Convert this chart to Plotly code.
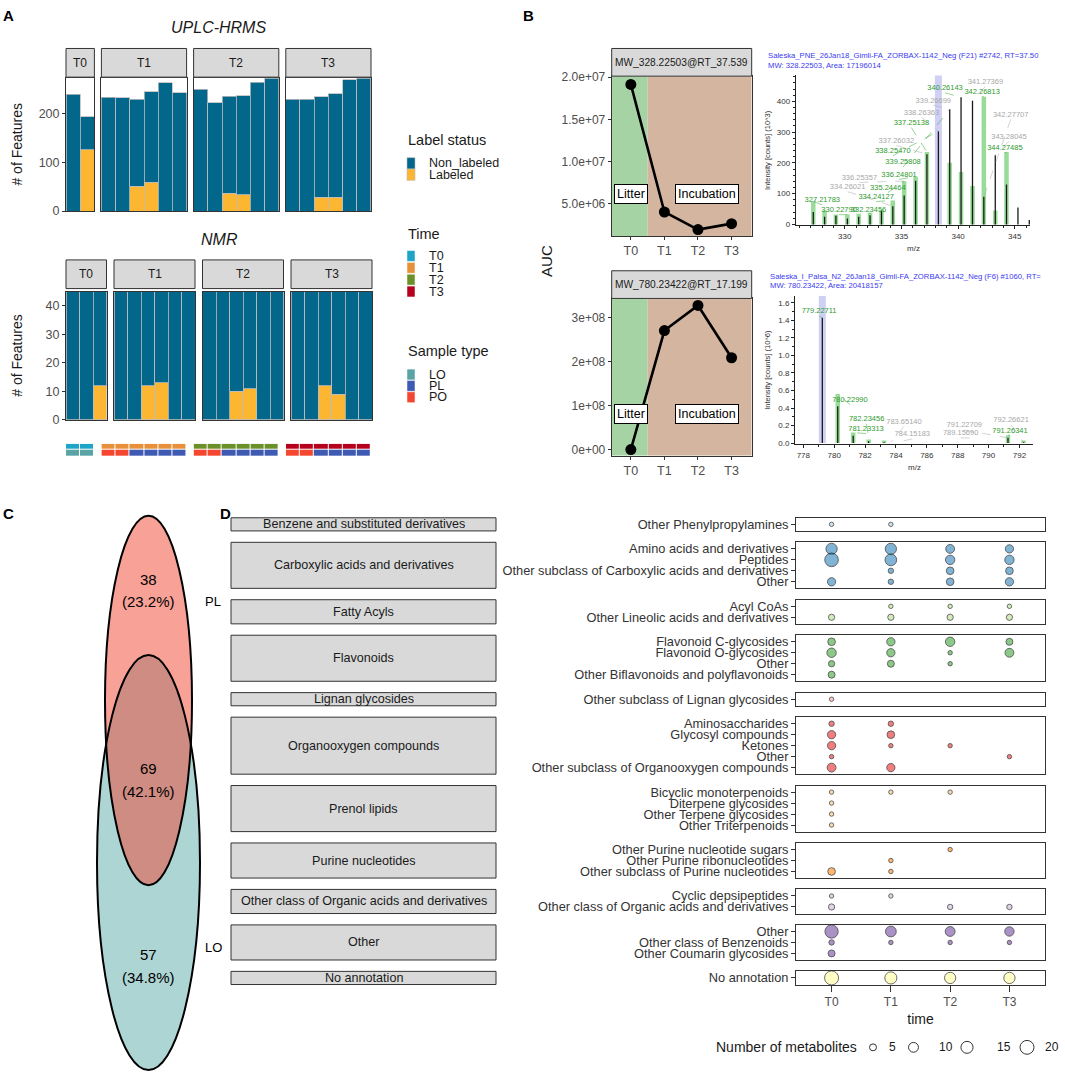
import plotly.graph_objects as go

W, H = 1065, 1082
FONT = "Liberation Sans, Arial, sans-serif"


def fx(px):
    return px / W


def fy(py):
    return 1 - py / H


# ======================= DATA =======================
times = ["T0", "T1", "T2", "T3"]
label_status = ["Non_labeled", "Labeled"]
sample_types = ["LO", "PL", "PO"]

# Panel A - UPLC-HRMS (total features per sample, labeled part)
uplc_total_T0 = [240, 194]
uplc_total_T1 = [234, 233, 230, 245, 263, 243]
uplc_total_T2 = [250, 222, 236, 237, 265, 273]
uplc_total_T3 = [230, 230, 235, 241, 270, 273]
uplc_labeled_T0 = [0, 126]
uplc_labeled_T1 = [0, 0, 51, 59, 0, 0]
uplc_labeled_T2 = [0, 0, 36, 33, 0, 0]
uplc_labeled_T3 = [0, 0, 28, 28, 0, 0]

# Panel A - NMR
nmr_total_T0 = [45, 45, 45]
nmr_total_T1 = [45, 45, 45, 45, 45, 45]
nmr_total_T2 = [45, 45, 45, 45, 45, 45]
nmr_total_T3 = [45, 45, 45, 45, 45, 45]
nmr_labeled_T0 = [0, 0, 12]
nmr_labeled_T1 = [0, 0, 12, 13, 0, 0]
nmr_labeled_T2 = [0, 0, 10, 11, 0, 0]
nmr_labeled_T3 = [0, 0, 12, 9, 0, 0]

# Sample annotation strip (UPLC samples)
sample_type_T0 = ["LO", "LO"]
sample_type_T1 = ["PO", "PO", "PL", "PL", "PL", "PL"]
sample_type_T2 = ["PO", "PO", "PL", "PL", "PL", "PL"]
sample_type_T3 = ["PO", "PO", "PL", "PL", "PL", "PL"]

# Panel B - AUC time courses
feature_328 = "MW_328.22503@RT_37.539"
auc_328 = [1.914e7, 4.02e6, 1.94e6, 2.64e6]
feature_780 = "MW_780.23422@RT_17.199"
auc_780 = [0.0, 2.71e8, 3.28e8, 2.09e8]
phase_labels = ["Litter", "Incubation"]

# Panel B - spectrum 1
spec1_title = ["Saleska_PNE_26Jan18_Gimli-FA_ZORBAX-1142_Neg (F21) #2742, RT=37.50",
               "MW: 328.22503, Area: 17196014"]
spec1_mz = [327.22, 328.22, 329.22, 330.23, 331.23, 332.23, 333.24, 334.24, 335.24, 336.25,
            337.25, 338.26, 339.26, 340.26, 341.27, 342.27, 343.28, 344.27, 345.28, 346.28]
spec1_obs = [40, 25, 28, 19, 25, 30, 44, 59, 94, 142, 228, 303, 374, 413, 402, 90, 225, 130, 55, 14]
spec1_sim = [75, 45, 32, 32, 35, 38, 48, 78, 140, 155, 235, 0, 200, 170, 125, 415, 45, 235, 0, 0]
spec1_sel = 338.26
spec1_green_text = ["327.21783", "330.22790", "332.23456", "334.24127", "335.24464", "336.24801",
                    "339.25808", "338.25470", "337.25138", "340.26143", "342.26813", "344.27485"]
spec1_green_x = [328.02, 329.5, 332.1, 332.77, 333.8, 334.79, 335.14, 334.25, 335.88, 338.85, 342.12, 344.13]
spec1_green_y = [78, 46, 48, 89, 118, 161, 201, 238, 329, 442, 431, 247]
spec1_grey_text = ["336.25357", "334.26021", "337.26032", "338.26363", "339.26699", "341.27369",
                   "342.27707", "343.28045"]
spec1_grey_x = [331.29, 330.25, 334.55, 336.77, 337.81, 342.41, 344.64, 344.49]
spec1_grey_y = [151, 121, 271, 362, 402, 463, 356, 285]

# Panel B - spectrum 2
spec2_title = ["Saleska_I_Palsa_N2_26Jan18_Gimli-FA_ZORBAX-1142_Neg (F6) #1060, RT=",
               "MW: 780.23422, Area: 20418157"]
spec2_mz = [779.23, 780.23, 781.23, 782.23, 783.23, 791.26, 792.27]
spec2_obs = [1.43, 0.42, 0.085, 0.02, 0.01, 0.06, 0.01]
spec2_sim = [0.0, 0.56, 0.12, 0.04, 0.03, 0.09, 0.03]
spec2_sel = 779.23
spec2_green_text = ["779.22711", "780.22990", "782.23456", "781.23313", "791.26341"]
spec2_green_x = [779.02, 781.02, 782.1, 782.06, 791.39]
spec2_green_y = [1.50, 0.49, 0.27, 0.16, 0.14]
spec2_grey_text = ["783.65140", "784.15183", "791.22709", "789.15690", "792.26621"]
spec2_grey_x = [784.52, 785.06, 788.43, 788.19, 791.46]
spec2_grey_y = [0.24, 0.10, 0.20, 0.11, 0.26]

# Panel C - Venn
venn_sets = ["PL", "LO"]
venn_counts = [38, 69, 57]  # PL only, both, LO only

# Panel D - dot plot
d_classes = ["Benzene and substituted derivatives", "Carboxylic acids and derivatives", "Fatty Acyls",
             "Flavonoids", "Lignan glycosides", "Organooxygen compounds", "Prenol lipids",
             "Purine nucleotides", "Other class of Organic acids and derivatives", "Other", "No annotation"]
d_class_colors = ["#A6CEE3", "#1F78B4", "#B2DF8A", "#33A02C", "#FB9A99", "#E31A1C", "#FDBF6F",
                  "#FF7F00", "#CAB2D6", "#6A3D9A", "#FFFF99"]
d_row_class = [0, 1, 1, 1, 1, 2, 2, 3, 3, 3, 3, 4, 5, 5, 5, 5, 5, 6, 6, 6, 6, 7, 7, 7, 8, 8, 9, 9, 9, 10]
d_row_sub = ["Other Phenylpropylamines",
             "Amino acids and derivatives", "Peptides",
             "Other subclass of Carboxylic acids and derivatives", "Other",
             "Acyl CoAs", "Other Lineolic acids and derivatives",
             "Flavonoid C-glycosides", "Flavonoid O-glycosides", "Other",
             "Other Biflavonoids and polyflavonoids",
             "Other subclass of Lignan glycosides",
             "Aminosaccharides", "Glycosyl compounds", "Ketones", "Other",
             "Other subclass of Organooxygen compounds",
             "Bicyclic monoterpenoids", "Diterpene glycosides", "Other Terpene glycosides",
             "Other Triterpenoids",
             "Other Purine nucleotide sugars", "Other Purine ribonucleotides",
             "Other subclass of Purine nucleotides",
             "Cyclic depsipeptides", "Other class of Organic acids and derivatives",
             "Other", "Other class of Benzenoids", "Other Coumarin glycosides",
             "No annotation"]
d_T0 = [2, 13, 19, 0, 7, 0, 4, 6, 9, 4, 5, 2, 3, 7, 7, 2, 8, 2, 2, 2, 2, 0, 0, 6, 2, 4, 18, 3, 5, 20]
d_T1 = [2, 13, 14, 3, 3, 2, 4, 7, 7, 5, 0, 0, 3, 6, 2, 0, 7, 2, 0, 0, 0, 0, 2, 2, 2, 0, 12, 2, 0, 15]
d_T2 = [0, 8, 9, 6, 6, 2, 4, 9, 2, 2, 0, 0, 0, 0, 2, 0, 0, 2, 0, 0, 0, 2, 0, 0, 0, 3, 10, 2, 0, 13]
d_T3 = [0, 7, 9, 6, 7, 2, 4, 5, 8, 0, 0, 0, 0, 0, 0, 2, 0, 0, 0, 0, 0, 0, 0, 0, 0, 3, 9, 2, 0, 13]
size_legend_vals = [5, 10, 15, 20]

# ======================= STYLE =======================
C_NON = "#03668B"
C_LAB = "#FDB632"
TIME_COLORS = ["#1DA4C6", "#E8913A", "#6B9027", "#B5001E"]
SAMPLE_COLORS = ["#5AA4A6", "#3F5AB2", "#F5472F"]
GREY_TXT = "#4D4D4D"
BORDER = "#333333"

traces = []
shapes = []
annotations = []
layout = dict(width=W, height=H, margin=dict(l=0, r=0, t=0, b=0), paper_bgcolor="white",
              plot_bgcolor="white", showlegend=False, barmode="stack", bargap=0,
              font=dict(family=FONT, color="#1A1A1A"))
ax_count = [0]


def add_axes(xpx, ypx, xa, ya):
    ax_count[0] += 1
    n = ax_count[0]
    s = "" if n == 1 else str(n)
    layout["xaxis" + s] = dict(domain=[fx(xpx[0]), fx(xpx[1])], anchor="y" + s, **xa)
    layout["yaxis" + s] = dict(domain=[fy(ypx[1]), fy(ypx[0])], anchor="x" + s, **ya)
    return "x" + s, "y" + s


def ax_style(**kw):
    d = dict(showgrid=False, zeroline=False, showline=True, mirror=True, linecolor=BORDER,
             linewidth=1, ticks="", showticklabels=False, fixedrange=True)
    d.update(kw)
    return d


def text(x, y, s, size=12, color="#1A1A1A", xanchor="center", angle=0, **kw):
    annotations.append(dict(xref="paper", yref="paper", x=fx(x), y=fy(y), text=s, showarrow=False,
                            font=dict(size=size, color=color, family=FONT), xanchor=xanchor,
                            yanchor="middle", textangle=angle, borderpad=0, **kw))


def rect(x0, y0, x1, y1, fill, line=BORDER, lw=1):
    shapes.append(dict(type="rect", xref="paper", yref="paper", x0=fx(x0), x1=fx(x1), y0=fy(y1),
                       y1=fy(y0), fillcolor=fill, line=dict(color=line, width=lw), layer="above"))


def strip(x0, x1, y0, y1, s, size=12):
    rect(x0, y0, x1, y1, "#D9D9D9")
    text((x0 + x1) / 2, (y0 + y1) / 2, s, size=size)


def rgba(h, a):
    h = h.lstrip("#")
    return "rgba(%d,%d,%d,%.2f)" % (int(h[0:2], 16), int(h[2:4], 16), int(h[4:6], 16), a)


def nz(v):
    return [x if x else None for x in v]


# ======================= PANEL A =======================
def facet_bars(totals, labeled, x_start, unit, gap, ypx, strip_y, ymax, tickvals, title, title_y):
    xpos = x_start
    doms = []
    for i, t in enumerate(times):
        n = len(totals[i])
        x0, x1 = xpos, xpos + n * unit
        doms.append((x0, x1))
        xa = ax_style(range=[0.5, n + 0.5])
        ya = ax_style(range=[0, ymax])
        if i == 0:
            ya.update(ticks="outside", ticklen=3, tickcolor=BORDER, showticklabels=True,
                      tickvals=tickvals, tickfont=dict(size=12.5, color=GREY_TXT))
        xr, yr = add_axes((x0, x1), ypx, xa, ya)
        idx = list(range(1, n + 1))
        lab = labeled[i]
        non = [a - b for a, b in zip(totals[i], lab)]
        traces.append(go.Bar(x=idx, y=nz(lab), xaxis=xr, yaxis=yr, name=label_status[1],
                             marker=dict(color=C_LAB, line=dict(color="#BDBDBD", width=0.8))))
        traces.append(go.Bar(x=idx, y=non, xaxis=xr, yaxis=yr, name=label_status[0],
                             marker=dict(color=C_NON, line=dict(color="#BDBDBD", width=0.8))))
        strip(x0, x1, strip_y[0], strip_y[1], t)
        xpos = x1 + gap
    text((doms[0][0] + doms[-1][1]) / 2, title_y, "<i>%s</i>" % title, size=16)
    text(17, (ypx[0] + ypx[1]) / 2, "# of Features", size=14, angle=-90)
    return doms


uplc_doms = facet_bars([uplc_total_T0, uplc_total_T1, uplc_total_T2, uplc_total_T3],
                       [uplc_labeled_T0, uplc_labeled_T1, uplc_labeled_T2, uplc_labeled_T3],
                       66, 14.2, 7, (73, 207.5), (43, 72), 273, [0, 100, 200], "UPLC-HRMS", 22)
facet_bars([nmr_total_T0, nmr_total_T1, nmr_total_T2, nmr_total_T3],
           [nmr_labeled_T0, nmr_labeled_T1, nmr_labeled_T2, nmr_labeled_T3],
           66, 13.5, 7.5, (289, 419), (257, 286), 45, [0, 10, 20, 30, 40], "NMR", 236)

# sample annotation strip
strip_colors = TIME_COLORS + SAMPLE_COLORS
cs = []
for k, c in enumerate(strip_colors):
    cs.append([k / len(strip_colors), c])
    cs.append([(k + 1) / len(strip_colors), c])
for i, (st, (x0, x1)) in enumerate(zip([sample_type_T0, sample_type_T1, sample_type_T2, sample_type_T3],
                                        uplc_doms)):
    n = len(st)
    xa = ax_style(range=[0.5, n + 0.5], showline=False)
    ya = ax_style(range=[-0.5, 1.5], showline=False)
    xr, yr = add_axes((x0, x1), (443, 456), xa, ya)
    z = [[4 + sample_types.index(s) for s in st], [i] * n]
    traces.append(go.Heatmap(z=z, x=list(range(1, n + 1)), y=[0, 1], xaxis=xr, yaxis=yr,
                             colorscale=cs, zmin=-0.5, zmax=len(strip_colors) - 0.5, showscale=False,
                             xgap=1, ygap=1, hoverinfo="skip"))

# legends of panel A
text(407, 136, "Label status", size=14.5, xanchor="left")
for k, (lab, col) in enumerate([(label_status[0], C_NON), (label_status[1], C_LAB)]):
    y0 = 153.5 + k * 11.5
    rect(407, y0, 415, y0 + 11.5, col, line="#BDBDBD", lw=0.6)
    text(428, y0 + 5.8, lab, size=12.5, xanchor="left")
text(407, 231, "Time", size=14.5, xanchor="left")
for k, t in enumerate(times):
    y0 = 247.5 + k * 12
    rect(407, y0, 415, y0 + 11, TIME_COLORS[k], line="white", lw=0.5)
    text(428, y0 + 5.5, t, size=12.5, xanchor="left")
text(407, 349, "Sample type", size=14.5, xanchor="left")
for k, s in enumerate(sample_types):
    y0 = 367.5 + k * 11.5
    rect(407, y0, 415, y0 + 11, SAMPLE_COLORS[k], line="white", lw=0.5)
    text(428, y0 + 5.5, s, size=12.5, xanchor="left")

# ======================= PANEL B (line plots) =======================
def auc_plot(feature, auc, ypx, strip_y, rng, tickvals, fmt, lab_y):
    xrng = [0.43, 4.6]
    xa = ax_style(range=xrng, tickvals=[1, 2, 3, 4], ticktext=times, ticks="outside", ticklen=3,
                  tickcolor=BORDER, showticklabels=True, tickfont=dict(size=12.5, color=GREY_TXT))
    ya = ax_style(range=rng, tickvals=tickvals, ticktext=[format(v, fmt) for v in tickvals],
                  ticks="outside", ticklen=3, tickcolor=BORDER, showticklabels=True,
                  tickfont=dict(size=12, color=GREY_TXT))
    xr, yr = add_axes((611.7, 751.7), ypx, xa, ya)
    shapes.append(dict(type="rect", xref=xr, yref=yr + " domain", x0=xrng[0], x1=1.5, y0=0, y1=1,
                       fillcolor="#A5D3A3", line=dict(width=0), layer="below"))
    shapes.append(dict(type="rect", xref=xr, yref=yr + " domain", x0=1.5, x1=xrng[1], y0=0, y1=1,
                       fillcolor="#D3B5A0", line=dict(width=0), layer="below"))
    traces.append(go.Scatter(x=[1, 2, 3, 4], y=auc, xaxis=xr, yaxis=yr, mode="lines+markers",
                             line=dict(color="black", width=2.6), marker=dict(color="black", size=11),
                             cliponaxis=False))
    for lab, xv in zip(phase_labels, [1, 3.27]):
        annotations.append(dict(xref=xr, yref=yr, x=xv, y=lab_y, text=lab, showarrow=False,
                                font=dict(size=12.5, color="black", family=FONT), bgcolor="white",
                                bordercolor="black", borderwidth=1, borderpad=2))
    strip(611.7, 751.7, strip_y[0], strip_y[1], feature, size=10.2)


auc_plot(feature_328, auc_328, (71, 233), (43, 71), [1.15e6, 2.012e7], [5e6, 1e7, 1.5e7, 2e7], ".1e", 6.2e6)
auc_plot(feature_780, auc_780, (296, 455), (268, 296), [-0.135e8, 3.44e8], [0, 1e8, 2e8, 3e8], ".0e", 0.82e8)
text(547, 258, "AUC", size=15, angle=-90)


# ======================= PANEL B (spectra) =======================
def leaders(labels, lx, ly, mz, heights, dy):
    xs, ys = [], []
    for t, x, y in zip(labels, lx, ly):
        target = float(t)
        j = min(range(len(mz)), key=lambda q: abs(mz[q] - target))
        xs += [x, target, None]
        ys += [y - dy, heights[j], None]
    return xs, ys


def spectrum(mz, obs, sim, sel, xpx, ypx, xrng, yrng, xticks, yticks, yfmt, titles, title_x, title_y,
             gtxt, gx, gy, rtxt, rx, ry, ytitle, ytitle_x, mz_y):
    xa = dict(showgrid=False, zeroline=False, showline=True, linecolor="#222222", linewidth=1,
              range=xrng, tickvals=xticks, ticks="outside", ticklen=3, tickcolor="#222222",
              tickfont=dict(size=8, color="#333333"), fixedrange=True,
              minor=dict(ticks="outside", ticklen=2, dtick=1, tickcolor="#222222"))
    ya = dict(showgrid=False, zeroline=False, showline=True, linecolor="#222222", linewidth=1,
              range=yrng, tickvals=yticks, ticktext=[format(v, yfmt) for v in yticks], ticks="outside",
              ticklen=3, tickcolor="#222222", tickfont=dict(size=8, color="#333333"), fixedrange=True,
              minor=dict(ticks="outside", ticklen=2, tickcolor="#222222"))
    xr, yr = add_axes(xpx, ypx, xa, ya)
    dy = (yrng[1] - yrng[0]) * 0.03
    traces.append(go.Scatter(x=[sel, sel], y=[0, yrng[1]], xaxis=xr, yaxis=yr, mode="lines",
                             line=dict(color="rgba(170,170,235,0.55)", width=7), hoverinfo="skip"))
    sx, sy = [], []
    for m, h in zip(mz, sim):
        if h:
            sx += [m, m, None]
            sy += [0, h, None]
    traces.append(go.Scatter(x=sx, y=sy, xaxis=xr, yaxis=yr, mode="lines",
                             line=dict(color="rgba(70,190,70,0.55)", width=4.5), hoverinfo="skip"))
    ox, oy = [], []
    for m, h in zip(mz, obs):
        ox += [m, m, None]
        oy += [0, h, None]
    traces.append(go.Scatter(x=ox, y=oy, xaxis=xr, yaxis=yr, mode="lines",
                             line=dict(color="#1A1A1A", width=1.3), hoverinfo="skip"))
    lx, ly = leaders(gtxt, gx, gy, mz, [max(a, b) for a, b in zip(obs, sim)], dy)
    traces.append(go.Scatter(x=lx, y=ly, xaxis=xr, yaxis=yr, mode="lines", hoverinfo="skip",
                             line=dict(color="rgba(60,170,60,0.75)", width=0.7, dash="dash")))
    lx, ly = leaders(rtxt, rx, ry, mz, obs, dy)
    traces.append(go.Scatter(x=lx, y=ly, xaxis=xr, yaxis=yr, mode="lines", hoverinfo="skip",
                             line=dict(color="rgba(170,170,170,0.75)", width=0.7, dash="dash")))
    traces.append(go.Scatter(x=gx, y=gy, text=gtxt, mode="text", xaxis=xr, yaxis=yr,
                             textfont=dict(size=7.5, color="#2E9A2E", family=FONT), cliponaxis=False))
    traces.append(go.Scatter(x=rx, y=ry, text=rtxt, mode="text", xaxis=xr, yaxis=yr,
                             textfont=dict(size=7.5, color="#A8A8A8", family=FONT), cliponaxis=False))
    for k, t in enumerate(titles):
        text(title_x, title_y + k * 10, t, size=7.7, color="#3B3BF0", xanchor="left")
    text(ytitle_x, (ypx[0] + ypx[1]) / 2, ytitle, size=7.5, color="#333333", angle=-90)
    text((xpx[0] + xpx[1]) / 2, mz_y, "m/z", size=8, color="#333333")


spectrum(spec1_mz, spec1_obs, spec1_sim, spec1_sel, (795.7, 1030.3), (70, 221.7), [325.67, 346.37],
         [-2, 485], [330, 335, 340, 345], [0, 100, 200, 300, 400], "d", spec1_title, 767, 50,
         spec1_green_text, spec1_green_x, spec1_green_y, spec1_grey_text, spec1_grey_x, spec1_grey_y,
         "Intensity [counts] (10^3)", 767, 245)
spectrum(spec2_mz, spec2_obs, spec2_sim, spec2_sel, (795, 1033.3), (293.3, 443.3), [777.46, 792.9],
         [-0.01, 1.68], [778, 780, 782, 784, 786, 788, 790, 792],
         [0, 0.2, 0.4, 0.6, 0.8, 1.0, 1.2, 1.4, 1.6], ".1f", spec2_title, 769, 273.3,
         spec2_green_text, spec2_green_x, spec2_green_y, spec2_grey_text, spec2_grey_x, spec2_grey_y,
         "Intensity [counts] (10^6)", 768, 467)

# ======================= PANEL C (Venn) =======================
venn_geo = [((97, 657, 200, 1077), "#5BABA9"), ((105, 516, 192, 890), "#F1432F")]
for (x0, y0, x1, y1), col in venn_geo:
    shapes.append(dict(type="circle", xref="paper", yref="paper", x0=fx(x0), x1=fx(x1), y0=fy(y1),
                       y1=fy(y0), fillcolor=rgba(col, 0.5), line=dict(width=0), layer="above"))
for (x0, y0, x1, y1), col in venn_geo:
    shapes.append(dict(type="circle", xref="paper", yref="paper", x0=fx(x0), x1=fx(x1), y0=fy(y1),
                       y1=fy(y0), fillcolor="rgba(0,0,0,0)", line=dict(color="black", width=2),
                       layer="above"))
total = sum(venn_counts)
for c, yc in zip(venn_counts, [580, 772, 960]):
    text(148.5, yc, str(c), size=15, color="black")
    text(148.5, yc + 23, "(%.1f%%)" % (100 * c / total), size=15, color="black")
text(213, 603, venn_sets[0], size=13, color="black")
text(213, 953, venn_sets[1], size=13, color="black")

# ======================= PANEL D =======================
d_counts = [d_T0, d_T1, d_T2, d_T3]
MAXD = 14.0
SREF = 2.0 * 20 / MAXD ** 2
u, g, ytop = 11.1, 11.5, 518
for k, cls in enumerate(d_classes):
    rows = [j for j in range(len(d_row_class)) if d_row_class[j] == k]
    n = len(rows)
    y0, y1 = ytop, ytop + (n + 0.2) * u
    subs = [d_row_sub[j] for j in rows]
    last = k == len(d_classes) - 1
    xa = ax_style(type="category", categoryorder="array", categoryarray=times, range=[-0.6, 3.6])
    if last:
        xa.update(ticks="outside", ticklen=6, tickcolor=BORDER, showticklabels=True,
                  tickmode="array", tickvals=times, ticktext=times,
                  tickfont=dict(size=12, color=GREY_TXT),
                  title=dict(text="time", font=dict(size=14, color="#1A1A1A"), standoff=6))
    ya = ax_style(type="category", categoryorder="array", categoryarray=subs, range=[n - 0.4, -0.6],
                  tickmode="array", tickvals=subs, ticktext=subs,
                  ticks="outside", ticklen=4, tickcolor=BORDER, showticklabels=True,
                  tickfont=dict(size=12.8, color="#333333"))
    xr, yr = add_axes((796, 1045), (y0, y1), xa, ya)
    xs, ys, ss = [], [], []
    for j in rows:
        for ti, t in enumerate(times):
            v = d_counts[ti][j]
            if v:
                xs.append(t)
                ys.append(d_row_sub[j])
                ss.append(v)
    traces.append(go.Scatter(x=xs, y=ys, xaxis=xr, yaxis=yr, mode="markers", cliponaxis=False,
                             marker=dict(size=ss, sizemode="area", sizeref=SREF, sizemin=2,
                                         color=rgba(d_class_colors[k], 0.8),
                                         line=dict(color="black", width=0.8))))
    rect(231, y0, 496, y1, "#D9D9D9")
    text(363.5, (y0 + y1) / 2, cls, size=12.6)
    ytop = y1 + g

# size legend
text(858, 1054, "Number of metabolites", size=14, xanchor="right")
for v, cx, tx in zip(size_legend_vals, [873, 913.5, 967, 1027], [892, 946, 1004, 1052]):
    d = MAXD * (v / 20) ** 0.5
    shapes.append(dict(type="circle", xref="paper", yref="paper", x0=fx(cx - d / 2), x1=fx(cx + d / 2),
                       y0=fy(1054 + d / 2), y1=fy(1054 - d / 2), line=dict(color="#333333", width=1),
                       fillcolor="rgba(0,0,0,0)"))
    text(tx, 1054, str(v), size=12)

# panel letters
for L, x, y in [("A", 8, 10), ("B", 528, 10), ("C", 8, 514), ("D", 225, 514)]:
    text(x, y, "<b>%s</b>" % L, size=15, color="black")

layout["shapes"] = shapes
layout["annotations"] = annotations
fig = go.Figure(data=traces)
fig.update_layout(**layout)
fig.write_html("out.html", config={"displayModeBar": False, "staticPlot": True},
               post_script="document.body.style.margin='0';document.body.style.overflow='hidden';"
                           "document.documentElement.style.overflow='hidden';")
